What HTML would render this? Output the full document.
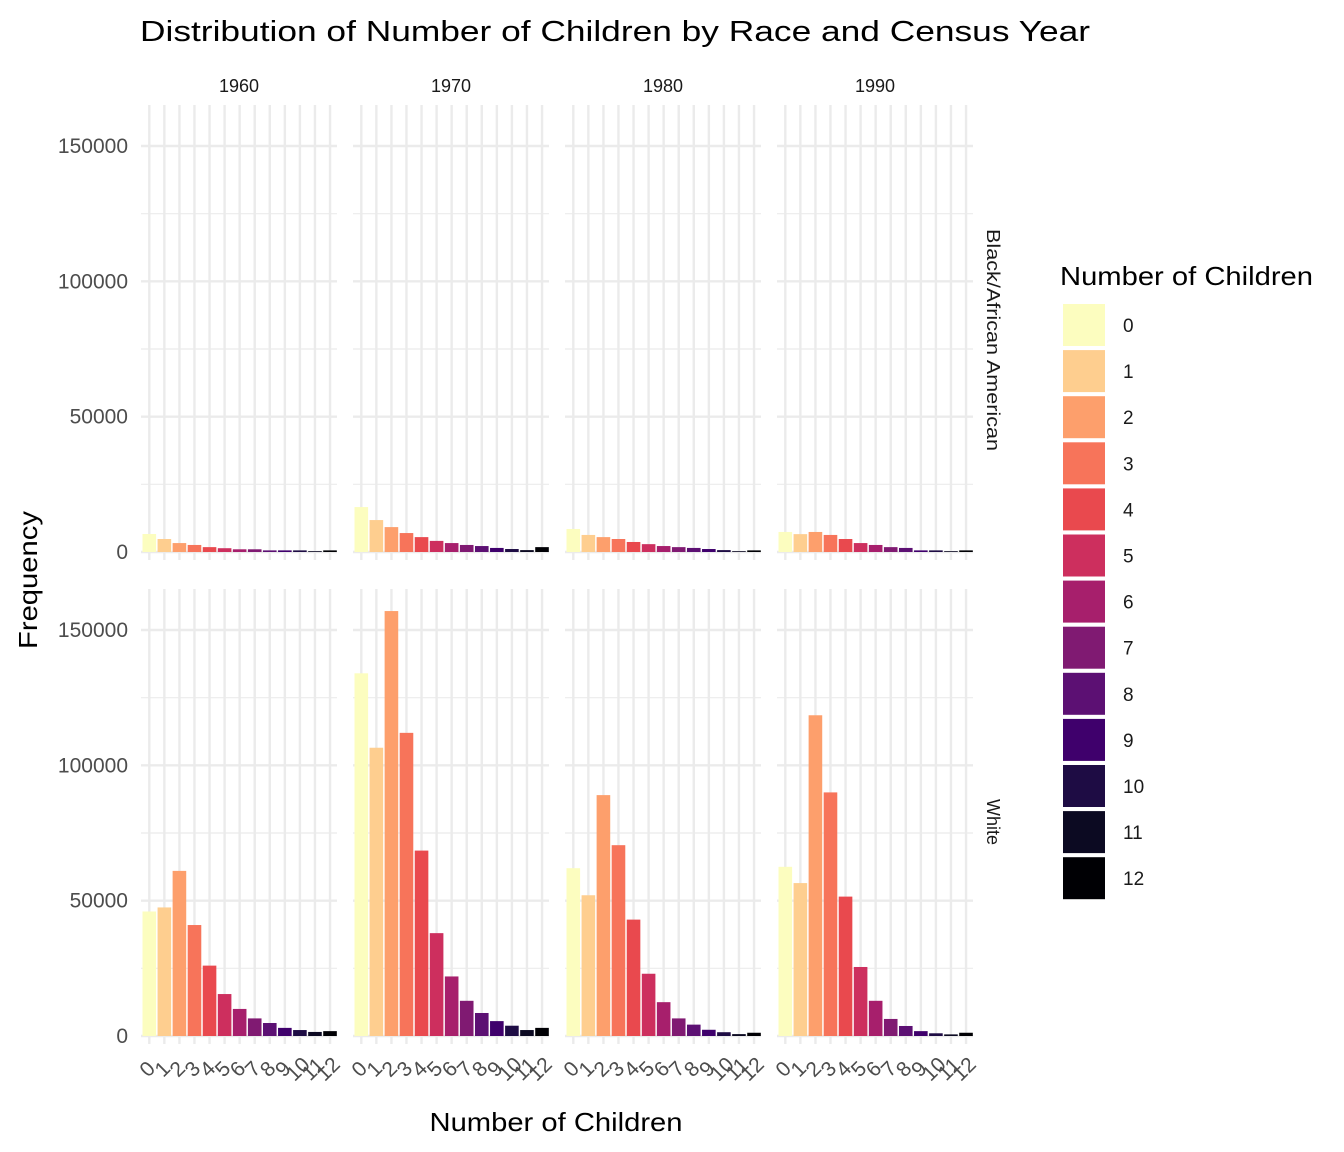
<!DOCTYPE html>
<html><head><meta charset="utf-8"><style>
body{margin:0;background:#fff;}
svg{display:block;font-family:"Liberation Sans",Arial,sans-serif;}
</style></head><body>
<svg id="chart" width="1344" height="1152">
<text x="140" y="41" font-size="29" textLength="950" lengthAdjust="spacingAndGlyphs" fill="#000">Distribution of Number of Children by Race and Census Year</text>
<text x="556" y="1131" font-size="26" textLength="253" lengthAdjust="spacingAndGlyphs" text-anchor="middle" fill="#000">Number of Children</text>
<text transform="translate(37,580) rotate(-90)" font-size="26" textLength="138" lengthAdjust="spacingAndGlyphs" text-anchor="middle" fill="#000">Frequency</text>
<g id="panels"></g>
<g id="legend"></g>
</svg>
<script>
const years = ["1960","1970","1980","1990"];
const races = ["Black/African American","White"];
const categories = ["0","1","2","3","4","5","6","7","8","9","10","11","12"];
const yTicks = [0,50000,100000,150000];
const black1960 = [6650,4800,3300,2600,1800,1400,1000,1000,600,600,600,300,600];
const black1970 = [16600,11800,9200,7000,5500,4100,3300,2600,2200,1500,1100,700,1800];
const black1980 = [8500,6300,5500,4800,3700,2900,2200,1800,1500,1100,700,300,600];
const black1990 = [7400,6600,7400,6300,4800,3300,2600,1800,1500,600,600,300,600];
const white1960 = [46000,47500,61000,41000,26000,15500,10000,6500,4800,3000,2200,1500,1800];
const white1970 = [134000,106500,157000,112000,68500,38000,22000,13000,8500,5500,3800,2200,3000];
const white1980 = [62000,52000,89000,70500,43000,23000,12500,6500,4200,2300,1400,700,1200];
const white1990 = [62500,56500,118500,90000,51500,25500,13000,6300,3700,1800,1000,600,1200];
const colors = ["#FCFDBF","#FECE8F","#FD9F6C","#F7745A","#E9494E","#CD2F5E","#A71F6C","#801A72","#5C1073","#3F006C","#1E0C44","#0C0A22","#000004"];

const series = [[black1960,black1970,black1980,black1990],[white1960,white1970,white1980,white1990]];
const NS="http://www.w3.org/2000/svg";
const panelX0=141, panelStep=212, panelW=196;
const rowTop=[105,589], rowZero=[552,1036];
const pxPerUnit=406/150000;
function xPos(p,i){return panelX0+p*panelStep+8.3+i*15.06;}
function yPos(r,v){return rowZero[r]-v*pxPerUnit;}
function mk(tag,attrs,parent){const e=document.createElementNS(NS,tag);for(const k in attrs)e.setAttribute(k,attrs[k]);parent.appendChild(e);return e;}
const G=document.getElementById('panels');
for(let r=0;r<2;r++){
  for(let p=0;p<4;p++){
    const g=mk('g',{},G);
    
    
    const px=panelX0+p*panelStep, bottom=rowZero[r]+8;
    for(let v=25000;v<=150000;v+=50000){mk('line',{x1:px,x2:px+panelW,y1:yPos(r,v),y2:yPos(r,v),stroke:'#ebebeb','stroke-width':1.2},g);}
    for(let v=0;v<=150000;v+=50000){mk('line',{x1:px,x2:px+panelW,y1:yPos(r,v),y2:yPos(r,v),stroke:'#ebebeb','stroke-width':2.4},g);}
    for(let i=0;i<categories.length;i++){mk('line',{x1:xPos(p,i),x2:xPos(p,i),y1:rowTop[r],y2:bottom,stroke:'#ebebeb','stroke-width':2.4},g);}
    const data=series[r][p];
    for(let i=0;i<data.length;i++){
      const b=mk('rect',{x:xPos(p,i)-6.8,y:yPos(r,data[i]),width:13.6,height:data[i]*pxPerUnit,fill:colors[i]},g);
      
      
    }
    if(r===0){
      const t=mk('text',{x:px+panelW/2,y:92,'font-size':18,'text-anchor':'middle',fill:'#1a1a1a'},g);
      t.textContent=years[p];
      
      
    }
    if(r===1){
      for(let i=0;i<categories.length;i++){
        const t=mk('text',{transform:'translate('+(xPos(p,i)+3)+',1074) rotate(-45)','font-size':21,'text-anchor':'middle',fill:'#4d4d4d'},g);
        t.textContent=categories[i];
        
        
      }
    }
  }
  for(const v of yTicks){
    const t=mk('text',{x:128,y:yPos(r,v)+7,'font-size':21,'text-anchor':'end',fill:'#4d4d4d'},G);
    t.textContent=v;
    
    
  }
  const s=mk('text',{transform:'translate(987,'+(r?822:340)+') rotate(90)','font-size':18,'text-anchor':'middle',fill:'#1a1a1a'},G);
  s.textContent=races[r];
  if(r===0){s.setAttribute('textLength','222');s.setAttribute('lengthAdjust','spacingAndGlyphs');}
  
  
}
const L=document.getElementById('legend');
const lt=mk('text',{x:1060,y:285,'font-size':26,fill:'#000',textLength:253,lengthAdjust:'spacingAndGlyphs'},L);
lt.textContent='Number of Children';


for(let i=0;i<categories.length;i++){
  const y=304+i*46.1;
  const k=mk('rect',{x:1063,y:y,width:42,height:42,fill:colors[i]},L);
  
  
  const t=mk('text',{x:1123,y:y+28,'font-size':19,fill:'#1a1a1a'},L);
  t.textContent=categories[i];
  
  
}
</script>
</body></html>
